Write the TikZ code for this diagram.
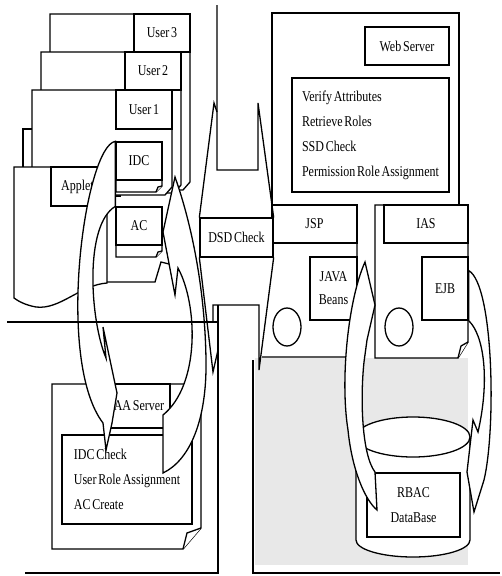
\documentclass[tikz,border=0pt]{standalone}
\usepackage{fontspec}
\setmainfont{Liberation Serif}[FakeStretch=0.8, WordSpace=0.6]

\begin{document}
\begin{tikzpicture}[
    x=1pt, y=-1pt,
    font=\fontsize{15}{25}\selectfont,
    box/.style={draw, fill=white, line width=1.3pt, inner sep=2pt, align=center},
    listbox/.style={draw, fill=white, line width=1.3pt, align=left},
    doc/.style={draw, fill=white, line width=1.3pt},
    band/.style={draw, fill=white, line width=1.3pt},
    divider/.style={line width=1.3pt}
  ]
  \useasboundingbox (0,0) rectangle (502,576);

  % dotted backdrop of the database corner
  \fill[black!9] (255,358) rectangle (468,565);

  % client: user windows and applet
  \draw[doc] (50,14) -- (190,14) -- (190,182) -- (183,190) -- (50,190) -- cycle;
  \node[box, minimum width=56pt, minimum height=38pt] (user3) at (162,33) {User 3};
  \draw[doc] (41,52) -- (181,52) -- (181,185) -- (174,193) -- (41,193) -- cycle;
  \node[box, minimum width=56pt, minimum height=38pt] (user2) at (153,71) {User 2};
  \draw[doc] (23,129) rectangle (120,196);
  \draw[doc] (32,90) -- (172,90) -- (172,187) -- (165,195) -- (32,195) -- cycle;
  \node[box, minimum width=56pt, minimum height=39pt] (user1) at (144,109.5) {User 1};
  \draw[doc] (14,167) -- (107,167) -- (107,283)
    .. controls (80,285) and (60,310) .. (36,307)
    .. controls (25,305) and (18,301) .. (14,298) -- cycle;
  \node[box, minimum width=53pt, minimum height=39pt] (applet) at (77.5,186.5) {Applet};

  % certificates
  \draw[doc] (116,142) -- (162,142) -- (162,186) -- (156,192) -- (116,192) -- cycle;
  \draw[doc] (156,192) -- (158,187) -- (162,186);
  \node[box, minimum width=46pt, minimum height=38pt] (idc) at (139,161) {IDC};
  \draw[doc] (116,207) -- (162,207) -- (162,251) -- (156,257) -- (116,257) -- cycle;
  \draw[doc] (156,257) -- (158,252) -- (162,251);
  \node[box, minimum width=46pt, minimum height=38pt] (ac) at (139,226) {AC};

  % web server
  \draw[doc] (272,205) -- (272,13) -- (459,13) -- (459,205);
  \node[box, minimum width=84pt, minimum height=38pt] (web) at (407,46) {Web Server};
  \node[listbox, minimum width=157pt, minimum height=114pt] (attrs) at (370.5,135)
    {Verify Attributes\\Retrieve Roles\\SSD Check\\Permission Role Assignment};

  % JSP and IAS
  \draw[doc] (272,205) -- (357,205) -- (357,345) -- (347,357) -- (262,357);
  \node[box, minimum width=85pt, minimum height=38pt] (jsp) at (314.5,224) {JSP};
  \node[box, minimum width=47pt, minimum height=63pt, font=\fontsize{15}{23}\selectfont]
    (beans) at (333.5,288.5) {JAVA\\Beans};
  \draw[doc] (287,327) ellipse [x radius=14pt, y radius=19pt];
  \draw[doc] (375,205) -- (468,205) -- (468,342) -- (458,358) -- (375,358) -- cycle;
  \draw[doc] (458,358) -- (461,346) -- (468,342);
  \node[box, minimum width=84pt, minimum height=38pt] (ias) at (426,224) {IAS};
  \node[box, minimum width=46pt, minimum height=63pt] (ejb) at (445,288.5) {EJB};
  \draw[doc] (399,327) ellipse [x radius=14pt, y radius=19pt];

  % database
  \draw[doc] (356,437) -- (356,540)
    arc[start angle=180, end angle=360, x radius=57pt, y radius=17pt] -- (470,437);
  \draw[doc] (413,437) ellipse [x radius=57pt, y radius=20pt];
  \node[box, minimum width=93pt, minimum height=64pt] (rbac) at (413.5,505) {RBAC\\DataBase};

  % AA server
  \draw[doc] (52,384) -- (201,384) -- (201,528) -- (183,549) -- (52,549) -- cycle;
  \draw[doc] (183,549) -- (187,533) -- (201,528);
  \node[box, minimum width=62pt, minimum height=44pt] (aa) at (139,406) {AA Server};
  \node[listbox, minimum width=130pt, minimum height=89pt] (aalist) at (127,479.5)
    {IDC Check\\User Role Assignment\\AC Create};

  % DSD check passage
  \node[box, minimum width=73pt, minimum height=39pt] (dsd) at (236.5,237.5) {DSD Check};
  \draw[divider] (217,5) -- (217,170) -- (258,170) -- (258,103) -- (dsd.north east);
  \draw[divider] (217,112) -- (214,103) -- (dsd.north west);
  \draw[divider] (dsd.south west) -- (213,372) -- (218,350);
  \draw[divider] (dsd.south east) -- (259,370) -- (259,305) -- (213,305) -- (213,322);
  \draw[divider] (218,305) -- (218,573) -- (25,573);
  \draw[divider] (253,360) -- (253,573) -- (500,573);

  % curved block arrows
  \draw[band] (idc.north west) .. controls (85,146) and (55,360) .. (103,423)
    -- (106,450) -- (112,423) -- (117,393) -- (103,327) -- (106,358)
    .. controls (90,320) and (84,225) .. (ac.north west) -- cycle;
  \draw[band] (175,177) -- (163,232) -- (175,295) -- (178,268)
    .. controls (198,305) and (200,385) .. (163,415) -- (163,473)
    .. controls (190,460) and (207,420) .. (206,360)
    .. controls (205,290) and (192,225) .. (175,177) -- cycle;
  \draw[divider] (107,282) -- (155,282) -- (161,262) -- (169,264);
  \draw[band] (365,262) .. controls (348,300) and (340,380) .. (348,430)
    .. controls (352,470) and (365,500) .. (377,510) -- (375,472)
    .. controls (362,455) and (360,400) .. (364,362) -- (367,340) -- (375,305) -- cycle;
  \draw[band] ([yshift=18pt]ejb.east) .. controls (494,285) and (496,430) .. (484,480)
    -- (474,512) -- (467,472) -- (473,420) -- (478,432)
    .. controls (490,380) and (484,335) .. (ejb.south east) -- cycle;

  \draw[divider] (7,322) -- (218,322);
\end{tikzpicture}
\end{document}
